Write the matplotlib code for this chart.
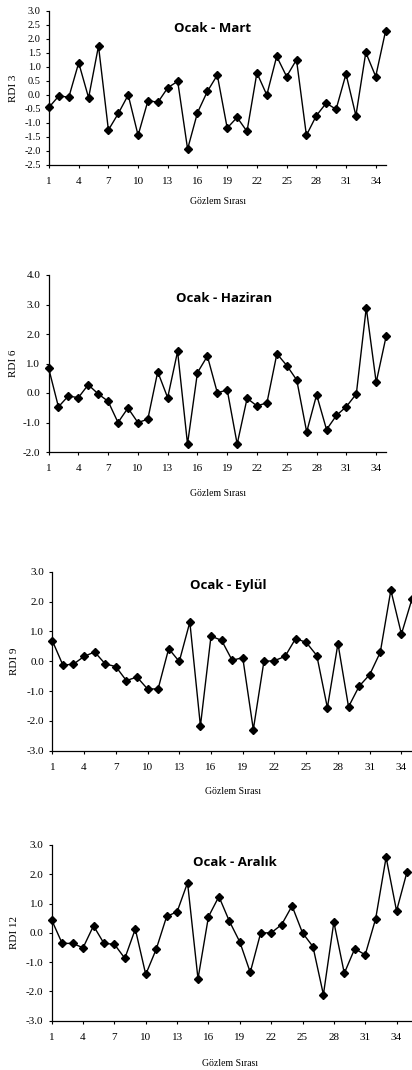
import matplotlib
matplotlib.use("Agg")
import matplotlib.pyplot as plt
import numpy as np

obs = list(range(1, 36))
rdi3 = [-0.44, -0.03, -0.08, 1.15, -0.10, 1.75, -1.25, -0.66, 0.00, -1.44,
        -0.20, -0.26, 0.26, 0.49, -1.93, -0.63, 0.13, 0.71, -1.18, -0.80,
        -1.30, 0.79, 0.00, 1.38, 0.66, 1.26, -1.44, -0.74, -0.29, -0.51,
        0.75, -0.74, 1.52, 0.66, 2.29]
rdi6 = [0.86, -0.47, -0.10, -0.16, 0.28, -0.03, -0.28, -1.00, -0.51, -1.00,
        -0.89, 0.72, -0.16, 1.41, -1.73, 0.69, 1.25, 0.01, 0.10, -1.73,
        -0.18, -0.44, -0.33, 1.33, 0.93, 0.44, -1.32, -0.06, -1.24, -0.76,
        -0.46, -0.03, 2.89, 0.36, 1.92]
rdi9 = [0.69, -0.13, -0.10, 0.16, 0.31, -0.09, -0.18, -0.65, -0.53, -0.93,
        -0.93, 0.42, -0.01, 1.31, -2.17, 0.84, 0.70, 0.03, 0.12, -2.29,
        -0.01, 0.02, 0.16, 0.76, 0.63, 0.19, -1.56, 0.59, -1.53, -0.84,
        -0.45, 0.30, 2.38, 0.91, 2.09]
rdi12 = [0.44, -0.36, -0.36, -0.51, 0.24, -0.36, -0.39, -0.87, 0.13, -1.42,
         -0.56, 0.56, 0.72, 1.71, -1.57, 0.55, 1.24, 0.40, -0.31, -1.35,
         0.00, 0.00, 0.28, 0.92, 0.00, -0.47, -2.11, 0.37, -1.38, -0.54,
         -0.75, 0.48, 2.58, 0.75, 2.08]

titles = ["Ocak - Mart", "Ocak - Haziran", "Ocak - Eylül", "Ocak - Aralık"]
ylabels = ["RDI 3", "RDI 6", "RDI 9", "RDI 12"]
xticks = [1, 4, 7, 10, 13, 16, 19, 22, 25, 28, 31, 34]
yticks_list = [
    [3.0, 2.5, 2.0, 1.5, 1.0, 0.5, 0.0, -0.5, -1.0, -1.5, -2.0, -2.5],
    [4.0, 3.0, 2.0, 1.0, 0.0, -1.0, -2.0],
    [3.0, 2.0, 1.0, 0.0, -1.0, -2.0, -3.0],
    [3.0, 2.0, 1.0, 0.0, -1.0, -2.0, -3.0],
]
series = [rdi3, rdi6, rdi9, rdi12]

W, H = 412, 1070
fig = plt.figure(figsize=(W / 100, H / 100), dpi=100)

layout = [
    dict(left=49, top=11, bottom=165, ppu=9.9, xmax=35.0, tx=213, ty=28.5, ylx=13, xly=201, fs=7.5),
    dict(left=48.5, top=275, bottom=452, ppu=9.93, xmax=35.0, tx=224.5, ty=298, ylx=13, xly=494, fs=8),
    dict(left=52.3, top=571.7, bottom=750.7, ppu=10.58, xmax=35.6, tx=228, ty=586, ylx=15, xly=792, fs=8),
    dict(left=51.7, top=845, bottom=1020.7, ppu=10.45, xmax=35.6, tx=234.5, ty=862, ylx=15, xly=1063, fs=8),
]

serif = "Liberation Serif"

for i, L in enumerate(layout):
    width_px = (L["xmax"] - 1) * L["ppu"]
    ax = fig.add_axes([L["left"] / W, 1 - L["bottom"] / H,
                       width_px / W, (L["bottom"] - L["top"]) / H])
    yt = yticks_list[i]
    ax.plot(obs, series[i], color="black", lw=1.0, marker="D", ms=4.3,
            mfc="black", mec="black", clip_on=False, zorder=3)
    ax.set_xlim(1, L["xmax"])
    ax.set_ylim(min(yt), max(yt))
    ax.set_xticks(xticks)
    ax.set_yticks(yt)
    ax.set_yticklabels([f"{v:.1f}" for v in yt], fontfamily=serif, fontsize=L["fs"])
    ax.set_xticklabels([str(v) for v in xticks], fontfamily=serif, fontsize=8)
    for s in ["top", "right"]:
        ax.spines[s].set_visible(False)
    for s in ["left", "bottom"]:
        ax.spines[s].set_linewidth(0.9)
    ax.tick_params(axis="y", direction="out", length=2.5, width=0.8, pad=3.5)
    ax.tick_params(axis="x", direction="out", length=2.5, width=0.8, pad=6)
    ax.set_ylabel(ylabels[i], fontfamily=serif, fontsize=8, va="center", ha="center")
    ax.yaxis.set_label_coords(L["ylx"] / W, 1 - ((L["top"] + L["bottom"]) / 2) / H,
                              transform=fig.transFigure)
    ax.set_xlabel("Gözlem Sırası", fontfamily=serif, fontsize=7, va="center", ha="center")
    xc = L["left"] + (35 - 1) * L["ppu"] / 2 + 1
    ax.xaxis.set_label_coords(xc / W, 1 - L["xly"] / H, transform=fig.transFigure)
    fig.text(L["tx"] / W, 1 - L["ty"] / H, titles[i], fontfamily="Open Sans",
             fontweight="bold", fontsize=9.5, ha="center", va="center")

fig.savefig("out.png", dpi=100)
